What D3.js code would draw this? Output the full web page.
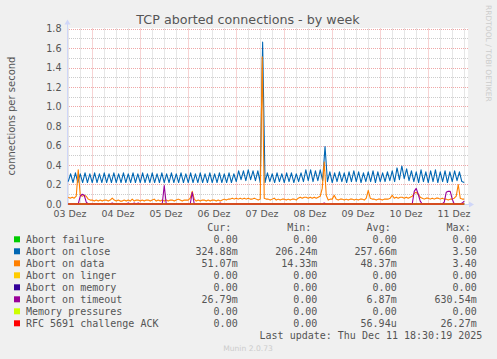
<!DOCTYPE html>
<html><head><meta charset="utf-8">
<script src="https://cdn.jsdelivr.net/npm/d3@7/dist/d3.min.js"></script>
<style>
html,body{margin:0;padding:0;background:#f0f0f0;}
svg{display:block;}
</style>
</head><body>
<script>
// ---------------- data ----------------
const chartTitle = "TCP aborted connections - by week";
const yAxisTitle = "connections per second";
const yTickValues = [0, 0.2, 0.4, 0.6, 0.8, 1.0, 1.2, 1.4, 1.6, 1.8];
const dayLabels = ["03 Dez", "04 Dez", "05 Dez", "06 Dez", "07 Dez", "08 Dez", "09 Dez", "10 Dez", "11 Dez"];
const dayDates = [3, 4, 5, 6, 7, 8, 9, 10, 11]; // December 2025

// all series begin at Dec 3 2025 12:00 (UTC used for layout)
const seriesStart = Date.UTC(2025, 11, 3, 12, 0);
const viewStart = Date.UTC(2025, 11, 3, 11, 23);
const viewEnd = Date.UTC(2025, 11, 11, 19, 23);

// Abort on close, one reading every 1.2 h
const closeStepHours = 1.2;
const closeValues = [
  0.23,0.31,0.22,0.32,0.22,0.31,0.22,0.32,0.22,0.31,
  0.22,0.32,0.22,0.31,0.22,0.32,0.22,0.31,0.22,0.32,
  0.22,0.31,0.22,0.32,0.22,0.31,0.22,0.32,0.22,0.31,
  0.22,0.32,0.22,0.31,0.22,0.32,0.22,0.31,0.22,0.32,
  0.22,0.31,0.22,0.32,0.22,0.31,0.22,0.32,0.22,0.31,
  0.22,0.32,0.22,0.31,0.22,0.32,0.22,0.31,0.22,0.32,
  0.22,0.31,0.22,0.32,0.22,0.31,0.22,0.32,0.22,0.31,
  0.23,
  0.34,0.25,0.34,0.24,0.35,0.25,0.34,0.24,0.34,
  0.22,1.66,0.22,
  0.32,0.23,0.31,0.22,0.32,0.23,0.31,0.22,0.32,0.23,0.32,0.22,0.31,0.23,0.32,0.23,
  0.35,0.24,0.35,0.23,0.34,0.24,0.35,0.24,
  0.59,
  0.23,0.33,0.22,0.32,0.23,0.33,0.23,0.32,0.22,0.33,0.23,0.34,0.23,0.33,0.22,0.32,
  0.23,0.33,0.23,0.34,0.22,0.33,0.23,0.32,0.23,0.33,0.24,0.34,0.23,
  0.37,0.25,0.39,0.26,0.36,0.24,
  0.34,0.23,0.33,0.22,0.35,0.23,0.33,0.22,0.34,0.23,0.35,0.22,0.33,0.23,0.34,0.22,0.33,0.23,0.34,
  0.24,0.33,0.23,0.22
];

// Abort on data, hourly
const hourlyStepHours = 1;
const dataValues = [
  0.07,0.06,0.07,0.06,0.08,0.35,0.09,0.08,0.09,0.08,
  0.05,0.04,0.04,0.03,0.04,0.03,0.04,0.03,0.04,0.04,
  0.03,0.04,0.06,0.04,0.03,0.04,0.03,0.03,0.04,0.03,
  0.04,0.03,0.05,0.03,0.04,0.04,0.03,0.04,0.03,0.04,
  0.04,0.03,0.04,0.05,0.03,0.04,0.03,0.04,0.03,0.04,
  0.03,0.04,0.04,0.03,0.04,0.05,0.04,0.03,0.04,0.04,
  0.04,0.06,0.13,0.05,0.03,0.04,0.03,0.04,0.04,0.03,
  0.04,0.03,0.04,0.04,0.03,0.04,0.03,0.04,0.05,0.04,
  0.05,0.05,0.06,0.05,0.06,0.05,0.06,0.05,0.06,0.05,
  0.06,0.05,0.05,0.06,0.05,0.04,0.05,1.51,0.06,0.05,
  0.05,0.04,0.05,0.06,0.04,0.05,0.04,0.05,0.05,0.04,
  0.05,0.04,0.05,0.05,0.04,0.06,0.07,0.06,0.07,0.07,
  0.06,0.07,0.06,0.07,0.06,0.07,0.08,0.16,0.43,0.09,
  0.04,0.05,0.05,0.09,0.05,0.04,0.05,0.05,0.04,0.05,
  0.04,0.05,0.05,0.04,0.05,0.04,0.05,0.05,0.04,0.06,
  0.14,0.06,0.05,0.05,0.04,0.05,0.05,0.04,0.05,0.05,
  0.05,0.06,0.09,0.06,0.07,0.06,0.07,0.07,0.06,0.07,
  0.06,0.07,0.08,0.11,0.12,0.10,0.07,0.06,0.05,0.06,
  0.06,0.05,0.06,0.05,0.06,0.06,0.05,0.06,0.05,0.05,
  0.04,0.05,0.05,0.06,0.08,0.20,0.06,0.05,0.05
];

// Abort on timeout, hourly
const timeoutValues = [
  0,0,0,0,0,0,0.08,0.10,0.09,0.02,
  0,0,0,0,0,0,0,0,0,0,
  0,0,0.01,0,0,0,0,0,0,0,
  0.01,0,0,0.01,0,0.01,0,0,0,0,
  0,0,0,0,0,0,0,0,0.19,0,
  0,0,0,0,0,0,0,0,0,0,
  0,0,0.12,0,0,0,0,0,0,0,
  0,0,0,0,0,0,0.01,0,0,0,
  0,0,0,0,0,0,0,0,0,0,
  0,0,0,0,0,0,0,0,0,0,
  0,0,0,0,0,0,0,0,0,0,
  0,0,0,0,0,0,0,0,0,0,
  0,0,0,0,0,0,0,0,0.01,0,
  0,0,0,0,0,0,0,0,0,0,
  0,0,0,0,0,0,0,0,0,0,
  0,0,0,0,0,0,0,0,0,0,
  0,0,0,0,0,0,0,0,0,0,
  0,0,0,0.13,0.16,0.10,0.03,0,0,0,
  0,0,0,0,0,0,0,0,0.02,0.12,
  0.13,0.13,0.05,0,0,0,0,0.01,0.03
];

// series that stay at zero over the whole week (start and end readings)
const flatStepHours = 198;
const flatZeroValues = [0, 0];

const legendNames = ["Abort failure","Abort on close","Abort on data","Abort on linger","Abort on memory","Abort on timeout","Memory pressures","RFC 5691 challenge ACK"];
const legendColors = ["#00CC00","#0066B3","#FF8000","#FFCC00","#330099","#990099","#CCFF00","#FF0000"];
const curValues = ["0.00","324.88m","51.07m","0.00","0.00","26.79m","0.00","0.00"];
const minValues = ["0.00","206.24m","14.33m","0.00","0.00","0.00","0.00","0.00"];
const avgValues = ["0.00","257.66m","48.37m","0.00","0.00","6.87m","0.00","56.94u"];
const maxValues = ["0.00","3.50","3.40","0.00","0.00","630.54m","0.00","26.27m"];
const lastUpdate = "Last update: Thu Dec 11 18:30:19 2025";
const footer = "Munin 2.0.73";
const sideNote = "RRDTOOL / TOBI OETIKER";

// series table built from the arrays (draw order as in munin)
const seriesTable = [
  {values: flatZeroValues, step: flatStepHours, color: legendColors[0]},
  {values: closeValues, step: closeStepHours, color: legendColors[1]},
  {values: dataValues, step: hourlyStepHours, color: legendColors[2]},
  {values: flatZeroValues, step: flatStepHours, color: legendColors[3]},
  {values: flatZeroValues, step: flatStepHours, color: legendColors[4]},
  {values: timeoutValues, step: hourlyStepHours, color: legendColors[5]},
  {values: flatZeroValues, step: flatStepHours, color: legendColors[6]},
  {values: flatZeroValues, step: flatStepHours, color: legendColors[7]}
];

// ---------------- drawing ----------------
(function draw() {
const W = 497, H = 359;
const pLeft = 67, pRight = 467, pTop = 28.5, pBottom = 204;
const sans = "'DejaVu Sans', sans-serif";
const mono = "'DejaVu Sans Mono', monospace";
const textColor = "#555555";

const svg = d3.select("body").append("svg").attr("width", W).attr("height", H);
svg.append("rect").attr("width", W).attr("height", H).attr("fill", "#f0f0f0");

const x = d3.scaleUtc().domain([viewStart, viewEnd]).range([pLeft, pRight]);
const y = d3.scaleLinear().domain([0, 1.8]).range([pBottom, pTop]);
const HOUR = 3600000;

// canvas
svg.append("rect").attr("x", pLeft).attr("y", pTop - 0.5).attr("width", pRight - pLeft + 1).attr("height", pBottom - pTop + 0.5).attr("fill", "#ffffff");

// grid
const grid = svg.append("g");
const minorY = d3.range(0, 19).map(k => k / 10);
minorY.forEach(v => {
  const yy = Math.round(y(v)) + 0.5;
  const major = Math.round(v * 10) % 2 === 0;
  grid.append("line").attr("x1", pLeft).attr("x2", pRight + 1).attr("y1", yy).attr("y2", yy)
    .attr("stroke", major ? "#e05050" : "#8f8f8f").attr("stroke-opacity", major ? 0.5 : 0.45)
    .attr("stroke-dasharray", "1,1");
});
const sixHours = d3.utcHour.every(6).range(new Date(viewStart), new Date(viewEnd));
sixHours.forEach(t => {
  const xx = Math.round(x(t)) + 0.5;
  if (xx <= pLeft + 1) return;
  const major = t.getUTCHours() === 0;
  grid.append("line").attr("x1", xx).attr("x2", xx).attr("y1", pTop).attr("y2", pBottom)
    .attr("stroke", major ? "#e05050" : "#8f8f8f").attr("stroke-opacity", major ? 0.5 : 0.45)
    .attr("stroke-dasharray", "1,1");
});

// axes (rrdtool style)
const axisColor = "#CFD6F8";
svg.append("line").attr("x1", pLeft + 0.5).attr("x2", pLeft + 0.5).attr("y1", pBottom + 0.5).attr("y2", pTop - 6).attr("stroke", axisColor);
svg.append("line").attr("x1", pLeft).attr("x2", pRight + 4).attr("y1", pBottom + 0.5).attr("y2", pBottom + 0.5).attr("stroke", axisColor);
svg.append("path").attr("d", `M${pLeft - 2.5},${pTop - 4}L${pLeft + 0.5},${pTop - 9}L${pLeft + 3.5},${pTop - 4}Z`).attr("fill", axisColor);
svg.append("path").attr("d", `M${pRight + 2},${pBottom - 2.5}L${pRight + 7},${pBottom + 0.5}L${pRight + 2},${pBottom + 3.5}Z`).attr("fill", axisColor);

// y tick labels
svg.append("g").selectAll("text").data(yTickValues).join("text")
  .attr("x", 61.5).attr("y", d => y(d) + 3.5).attr("text-anchor", "end")
  .attr("font-family", sans).attr("font-size", 9.6).attr("fill", textColor)
  .text(d => d3.format(".1f")(d));

// x tick labels at noon of each day
svg.append("g").selectAll("text").data(dayLabels).join("text")
  .attr("x", (d, i) => x(new Date(Date.UTC(2025, 11, dayDates[i], 12, 0))) + 1.7)
  .attr("y", 216.5).attr("text-anchor", "middle")
  .attr("font-family", sans).attr("font-size", 9.4).attr("fill", textColor)
  .text(d => d);

// lines
const lineGen = step => d3.line()
  .x((d, i) => x(new Date(seriesStart + i * step * HOUR)))
  .y(d => y(d));
const lines = svg.append("g");
seriesTable.forEach(s => {
  lines.append("path").attr("d", lineGen(s.step)(s.values))
    .attr("fill", "none").attr("stroke", s.color).attr("stroke-width", 1.1)
    .attr("stroke-linejoin", "round");
});

// title
svg.append("text").attr("x", 248).attr("y", 24).attr("text-anchor", "middle")
  .attr("font-family", sans).attr("font-size", 12.7).attr("fill", textColor).text(chartTitle);

// y axis title
svg.append("text").attr("transform", "translate(15,116) rotate(-90)").attr("text-anchor", "middle")
  .attr("font-family", sans).attr("font-size", 10).attr("fill", textColor).text(yAxisTitle);

// side note
svg.append("text").attr("transform", "translate(485.5,5) rotate(90)").attr("text-anchor", "start")
  .attr("font-family", sans).attr("font-size", 7.5).attr("fill", "#cccccc").text(sideNote);

// legend
const leg = svg.append("g").attr("font-family", mono).attr("font-size", 10).attr("fill", textColor);
const headerY = 231;
[["Cur:", 231.3], ["Min:", 311.3], ["Avg:", 390.7], ["Max:", 470.7]].forEach(([t, xx]) => {
  leg.append("text").attr("x", xx).attr("y", headerY).attr("text-anchor", "end").text(t);
});
const colEnds = [237.7, 317.3, 396.7, 476.7];
const cols = [curValues, minValues, avgValues, maxValues];
legendNames.forEach((name, i) => {
  const base = 243 + i * 12;
  leg.append("rect").attr("x", 14).attr("y", base - 6.7).attr("width", 6).attr("height", 6).attr("fill", legendColors[i]);
  leg.append("text").attr("x", 26).attr("y", base).text(name);
  cols.forEach((arr, c) => {
    leg.append("text").attr("x", colEnds[c]).attr("y", base).attr("text-anchor", "end").text(arr[i]);
  });
});
leg.append("text").attr("x", 482.3).attr("y", 243 + 8 * 12).attr("text-anchor", "end").text(lastUpdate);

svg.append("text").attr("x", 248).attr("y", 351).attr("text-anchor", "middle")
  .attr("font-family", sans).attr("font-size", 7.6).attr("fill", "#cccccc").text(footer);
})();
</script>
</body></html>
